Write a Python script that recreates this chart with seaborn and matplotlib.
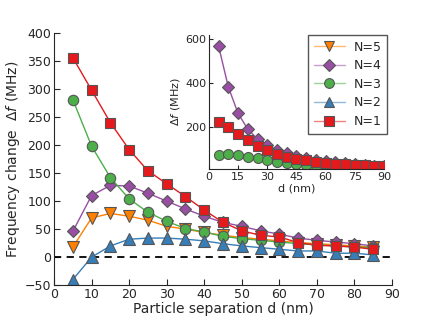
import numpy as np
import pandas as pd
import matplotlib
matplotlib.use("Agg")
import matplotlib.pyplot as plt
from matplotlib.lines import Line2D
from matplotlib.colors import to_rgb
import seaborn as sns

sns.set_style("ticks")
plt.rcParams['font.family'] = ['DejaVu Sans']

# ---- main plot data ----
d_main = [5, 10, 15, 20, 25, 30, 35, 40, 45, 50, 55, 60, 65, 70, 75, 80, 85]
n5 = [18, 70, 78, 73, 66, 55, 50, 44, 39, 35, 32, 29, 26, 24, 22, 20, 18]
n4 = [46, 110, 128, 127, 114, 100, 86, 73, 62, 55, 47, 41, 34, 30, 27, 24, 20]
n3 = [281, 198, 142, 104, 80, 64, 51, 45, 37, 33, 30, 27, 24, 22, 20, 18, 17]
n2 = [-40, 0, 20, 32, 34, 34, 32, 29, 24, 20, 17, 14, 11, 11, 7, 7, 4]
n1 = [356, 298, 240, 192, 154, 131, 108, 84, 62, 47, 39, 36, 26, 21, 20, 18, 14]

# ---- inset data ----
d_inset = [5, 10, 15, 20, 25, 30, 35, 40, 45, 50, 55, 60, 65, 70, 75, 80, 85, 90]
in_n4 = [569, 383, 262, 190, 145, 118, 95, 80, 68, 58, 50, 44, 38, 34, 30, 27, 24, 22]
in_n3 = [70, 77, 73, 65, 58, 50, 42, 35, 30, 27, 24, 22, 20, 18, 17, 16, 15, 14]
in_n1 = [224, 201, 167, 141, 115, 95, 77, 65, 55, 50, 40, 35, 32, 30, 27, 25, 24, 23]

labels = ["N=5", "N=4", "N=3", "N=2", "N=1"]
colors = {"N=5": "#ff7f00", "N=4": "#984ea3", "N=3": "#4daf4a",
          "N=2": "#377eb8", "N=1": "#e41a1c"}
markers = {"N=5": "v", "N=4": "D", "N=3": "o", "N=2": "^", "N=1": "s"}
msizes = {"N=5": 8, "N=4": 6.5, "N=3": 7.5, "N=2": 8, "N=1": 7}
series = {"N=5": n5, "N=4": n4, "N=3": n3, "N=2": n2, "N=1": n1}
EDGE = "#555555"

fig = plt.figure(figsize=(4.36, 3.27), dpi=100)
ax = fig.add_axes([0.124, 0.128, 0.775, 0.771])

ax.axhline(0, color="black", ls="--", lw=1.3, dashes=(4, 3), zorder=1)
for lab in labels:
    sns.lineplot(x=d_main, y=series[lab], ax=ax, color=colors[lab],
                 marker=markers[lab], markersize=msizes[lab],
                 markeredgecolor=EDGE, markeredgewidth=0.8,
                 lw=1.0, legend=False)

ax.set_xlim(0, 90)
ax.set_ylim(-50, 400)
ax.set_xticks(np.arange(0, 91, 10))
ax.set_yticks(np.arange(-50, 401, 50))
ax.tick_params(direction="in", labelsize=9, length=4, width=0.8, pad=2)
ax.set_xlabel("Particle separation d (nm)", fontsize=10, labelpad=1)
ax.set_ylabel(r"Frequency change  $\Delta f$ (MHz)", fontsize=10, labelpad=2)
sns.despine(ax=ax)

# ---- inset ----
axin = fig.add_axes([0.479, 0.483, 0.402, 0.41])
inset_series = [("N=4", in_n4), ("N=3", in_n3), ("N=1", in_n1)]
for lab, vals in inset_series:
    sns.lineplot(x=d_inset, y=vals, ax=axin, color=colors[lab],
                 marker=markers[lab], markersize=msizes[lab] - 0.3,
                 markeredgecolor=EDGE, markeredgewidth=0.8,
                 lw=1.0, legend=False)
axin.set_xlim(0, 90)
axin.set_ylim(8, 620)
axin.set_xticks(np.arange(0, 91, 15))
axin.set_yticks([200, 400, 600])
axin.tick_params(direction="in", labelsize=8, length=3, width=0.8, pad=2)
axin.set_xlabel("d (nm)", fontsize=8, labelpad=1)
axin.set_ylabel(r"$\Delta f$ (MHz)", fontsize=8, labelpad=2)
axin.patch.set_alpha(0)
sns.despine(ax=axin)


def lighten(c, f=0.45):
    r, g, b = to_rgb(c)
    return (r + (1 - r) * f, g + (1 - g) * f, b + (1 - b) * f)


handles = [Line2D([], [], color=lighten(colors[l]), lw=1.0, marker=markers[l],
                  markersize=msizes[l] - 0.5, markerfacecolor=colors[l],
                  markeredgecolor=EDGE, markeredgewidth=0.8) for l in labels]
leg = axin.legend(handles, labels, loc="upper right",
                  bbox_to_anchor=(0.888, 0.893), bbox_transform=fig.transFigure,
                  borderaxespad=0.0,
                  fontsize=9, frameon=True, fancybox=False, edgecolor="#555555",
                  handlelength=2.5, handletextpad=0.7, labelspacing=0.45,
                  borderpad=0.45, framealpha=1)
leg.get_frame().set_linewidth(1.0)

fig.savefig("out.png", dpi=100)
